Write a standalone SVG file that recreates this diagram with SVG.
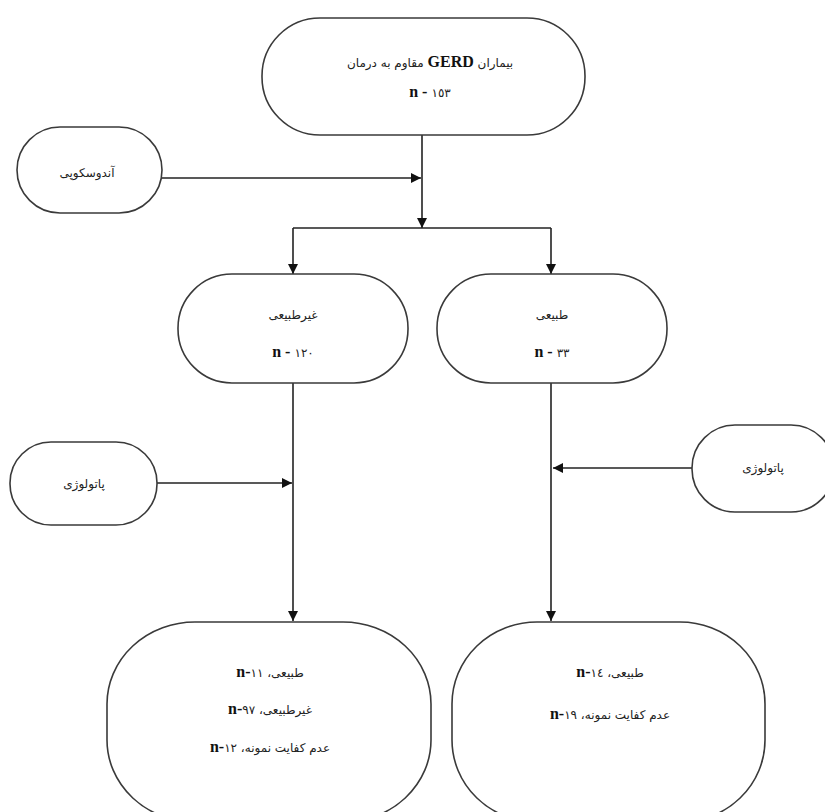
<svg xmlns="http://www.w3.org/2000/svg" width="825" height="812" viewBox="0 0 825 812">
<style>
.node{fill:#fff;stroke:#3a3a3a;stroke-width:1.6}
.ar{font-family:"DejaVu Sans","Noto Sans",sans-serif;font-size:12px;fill:#222}
.lt{font-family:"Liberation Serif","DejaVu Serif",serif;font-weight:bold;font-size:16px;fill:#111}
.conn line,.conn path{stroke:#222;stroke-width:1.6;fill:none}
</style>
<defs>
<marker id="arr" markerUnits="userSpaceOnUse" markerWidth="10" markerHeight="10" refX="10" refY="5" orient="auto">
<path d="M0,0 L10,5 L0,10 z" fill="#111"/>
</marker>
</defs>
<rect width="825" height="812" fill="#fff"/>
<g class="conn">
<line x1="162" y1="178" x2="421" y2="178" marker-end="url(#arr)"/>
<line x1="422" y1="135" x2="422" y2="228" marker-end="url(#arr)"/>
<line x1="293" y1="228" x2="551" y2="228"/>
<line x1="293" y1="228" x2="293" y2="274" marker-end="url(#arr)"/>
<line x1="551" y1="228" x2="551" y2="274" marker-end="url(#arr)"/>
<line x1="293" y1="383" x2="293" y2="621" marker-end="url(#arr)"/>
<line x1="157" y1="483" x2="292" y2="483" marker-end="url(#arr)"/>
<line x1="551" y1="383" x2="551" y2="621" marker-end="url(#arr)"/>
<line x1="692" y1="468" x2="553" y2="468" marker-end="url(#arr)"/>
</g>
<g id="top">
<rect class="node" x="262" y="18" width="323" height="117" rx="58"/>
<text x="430" y="67" class="ar" direction="rtl" text-anchor="middle">بیماران <tspan class="lt" font-size="17">GERD</tspan> مقاوم به درمان</text>
<text x="430" y="97" class="lt" text-anchor="middle">n - <tspan class="ar" font-weight="normal">١٥٣</tspan></text>
</g>
<g id="endoscopy">
<rect class="node" x="17" y="127" width="145" height="86" rx="43"/>
<text x="87" y="177" class="ar" text-anchor="middle" direction="rtl">آندوسکوپی</text>
</g>
<g id="abnormal">
<rect class="node" x="178" y="274" width="230" height="109" rx="54"/>
<text x="293" y="319" class="ar" text-anchor="middle" direction="rtl">غیرطبیعی</text>
<text x="293" y="357" class="lt" text-anchor="middle">n - <tspan class="ar" font-weight="normal">١٢٠</tspan></text>
</g>
<g id="normal">
<rect class="node" x="437" y="274" width="230" height="109" rx="54"/>
<text x="552" y="319" class="ar" text-anchor="middle" direction="rtl">طبیعی</text>
<text x="552" y="357" class="lt" text-anchor="middle">n - <tspan class="ar" font-weight="normal">٣٣</tspan></text>
</g>
<g id="pathology-left">
<rect class="node" x="10" y="442" width="147" height="83" rx="41"/>
<text x="84" y="488" class="ar" text-anchor="middle" direction="rtl">پاتولوژی</text>
</g>
<g id="pathology-right">
<rect class="node" x="692" y="425" width="142" height="87" rx="43"/>
<text x="763" y="472" class="ar" text-anchor="middle" direction="rtl">پاتولوژی</text>
</g>
<g id="result-abnormal">
<rect class="node" x="107" y="622" width="324" height="200" rx="88" ry="82"/>
<text x="270" y="677" class="ar" text-anchor="middle" direction="rtl">طبیعی، &#x2066;<tspan class="lt">n-</tspan>١١&#x2069;</text>
<text x="270" y="714" class="ar" text-anchor="middle" direction="rtl">غیرطبیعی، &#x2066;<tspan class="lt">n-</tspan>٩٧&#x2069;</text>
<text x="270" y="752" class="ar" text-anchor="middle" direction="rtl">عدم کفایت نمونه، &#x2066;<tspan class="lt">n-</tspan>١٢&#x2069;</text>
</g>
<g id="result-normal">
<rect class="node" x="452" y="622" width="313" height="200" rx="85" ry="82"/>
<text x="610" y="677" class="ar" text-anchor="middle" direction="rtl">طبیعی، &#x2066;<tspan class="lt">n-</tspan>١٤&#x2069;</text>
<text x="610" y="719" class="ar" text-anchor="middle" direction="rtl">عدم کفایت نمونه، &#x2066;<tspan class="lt">n-</tspan>١٩&#x2069;</text>
</g>
</svg>
